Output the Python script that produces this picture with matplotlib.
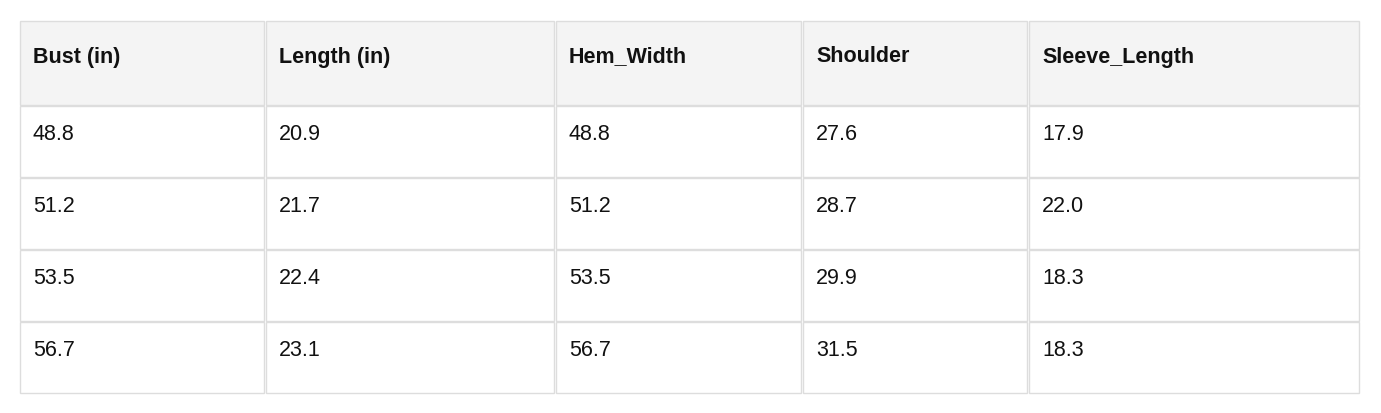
import matplotlib.pyplot as plt
from matplotlib.patches import Rectangle

plt.rcParams['font.family'] = ['Liberation Sans', 'DejaVu Sans']

headers = ["Bust (in)", "Length (in)", "Hem_Width", "Shoulder", "Sleeve_Length"]
rows = [
    ["48.8", "20.9", "48.8", "27.6", "17.9"],
    ["51.2", "21.7", "51.2", "28.7", "22.0"],
    ["53.5", "22.4", "53.5", "29.9", "18.3"],
    ["56.7", "23.1", "56.7", "31.5", "18.3"],
]

W, H = 1381, 413
col_x = [20, 266, 556, 803, 1029, 1361]
row_y = [20, 105, 177, 249, 321, 393]

fig = plt.figure(figsize=(W / 100, H / 100), dpi=100)
ax = fig.add_axes([0, 0, 1, 1])
ax.set_xlim(0, W)
ax.set_ylim(H, 0)
ax.axis('off')

for r in range(len(rows) + 1):
    y0, y1 = row_y[r], row_y[r + 1]
    for c in range(len(headers)):
        x0, x1 = col_x[c], col_x[c + 1]
        face = '#f4f4f4' if r == 0 else 'white'
        ax.add_patch(Rectangle((x0 + 0.5, y0 + 0.5), x1 - x0 - 2, y1 - y0 - 1,
                               facecolor=face, edgecolor='#dddddd', lw=1))
        if r == 0:
            ax.text(x0 + 13, 57, headers[c], fontsize=15.5, fontweight='bold',
                    color='#111111', va='center', ha='left')
        else:
            ax.text(x0 + 13, y0 + 30, rows[r - 1][c], fontsize=15.5,
                    color='#111111', va='center', ha='left')

fig.savefig('out.png', dpi=100)
